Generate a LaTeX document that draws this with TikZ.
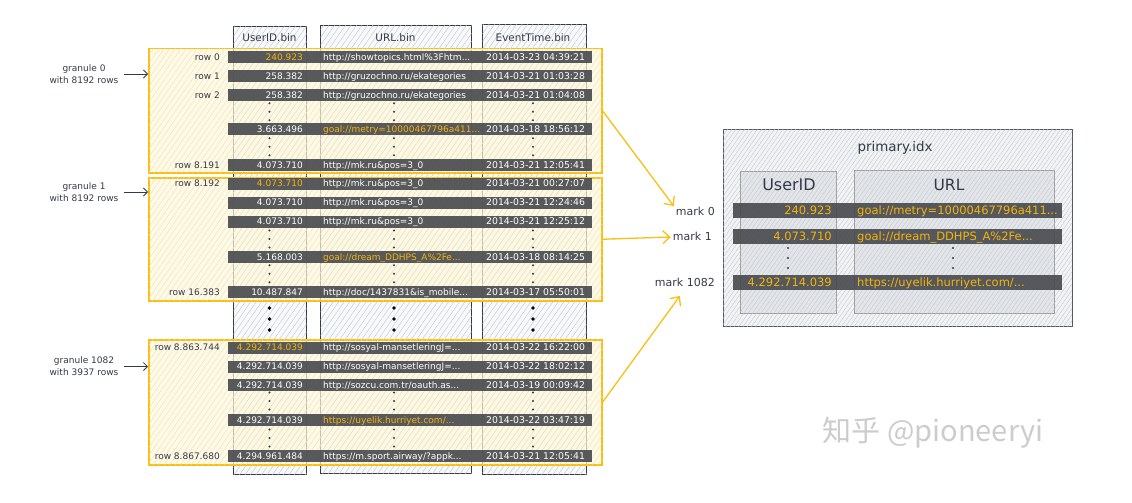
\documentclass[tikz,border=0pt]{standalone}
\usepackage{fontspec}
\setmainfont{DejaVu Sans}
\newfontfamily\cjkfont{Noto Sans CJK SC}
\usetikzlibrary{positioning,arrows.meta,patterns.meta}

\definecolor{goldline}{RGB}{250,190,20}
\definecolor{goldtext}{RGB}{245,180,12}
\definecolor{goldfill}{RGB}{255,248,222}
\definecolor{goldhatch}{RGB}{238,224,176}
\definecolor{inkline}{RGB}{52,58,72}
\definecolor{barfill}{RGB}{74,76,80}
\definecolor{colfill}{RGB}{248,249,250}
\definecolor{idxfill}{RGB}{241,243,245}
\definecolor{idxcolfill}{RGB}{226,229,233}
\definecolor{hatch}{RGB}{192,197,204}

\begin{document}
\begin{tikzpicture}
    [x=1pt, y=-1pt, >={Straight Barb[length=7pt,width=13pt]},
     every node/.style={inner sep=0pt},
     col/.style={draw=inkline, line width=1.1pt, fill=colfill, anchor=north west,
       postaction={pattern={Lines[angle=55,distance=4.5pt,line width=0.4pt]}, pattern color=hatch}},
     granule/.style={draw=goldline, line width=1.5pt, fill=goldfill, fill opacity=0.7,
       anchor=north west, minimum width=453pt,
       postaction={pattern={Lines[angle=55,distance=4.5pt,line width=0.4pt]}, pattern color=goldhatch}},
     bar/.style={fill=barfill, fill opacity=0.92, anchor=west, minimum width=364pt, minimum height=12pt},
     cell/.style={font=\fontsize{9}{11}\selectfont, text=white, text height=6.5pt, text depth=0pt},
     uid/.style={cell, anchor=east},
     url/.style={cell, anchor=west},
     tim/.style={cell, anchor=west, font=\fontsize{9.3}{11}\selectfont},
     hot/.style={text=goldtext},
     rowlbl/.style={font=\fontsize{9}{11}\selectfont, text=inkline, anchor=east, text height=6.5pt, text depth=0pt},
     head/.style={font=\fontsize{10.4}{12}\selectfont, text=inkline},
     glbl/.style={font=\fontsize{9}{12}\selectfont, align=center, text=inkline},
     marklbl/.style={font=\fontsize{11}{13}\selectfont, text=inkline, anchor=east, inner sep=2pt, text height=7.5pt, text depth=0pt},
     goldarrow/.style={->, draw=goldline, line width=1.3pt},
     smallarrow/.style={-{Straight Barb[length=4pt,width=8pt]}, draw=inkline, line width=0.8pt},
     idxbox/.style={draw=inkline!85, line width=1.1pt, fill=idxfill, anchor=north west,
       postaction={pattern={Lines[angle=55,distance=3.5pt,line width=0.35pt]}, pattern color=hatch}},
     idxcol/.style={draw=gray!75, line width=1pt, fill=idxcolfill, anchor=north west,
       postaction={pattern={Lines[angle=55,distance=3.5pt,line width=0.35pt]}, pattern color=gray!45}},
     ibar/.style={fill=barfill, fill opacity=0.92, anchor=west, minimum width=329pt, minimum height=15pt},
     ival/.style={font=\fontsize{11.5}{13}\selectfont, text=goldtext, text height=8.3pt, text depth=0pt},
     tabdots/.pic={\fill[inkline] (269.5,-8.5) circle (1.1) (269.5,0) circle (1.1) (269.5,8.5) circle (1.1)
       (394,-8.5) circle (1.1) (394,0) circle (1.1) (394,8.5) circle (1.1)
       (533,-8.5) circle (1.1) (533,0) circle (1.1) (533,8.5) circle (1.1);},
     bigdots/.pic={\fill[black] (269.5,-11) circle (1.8) (269.5,0) circle (1.8) (269.5,11) circle (1.8)
       (394,-11) circle (1.8) (394,0) circle (1.8) (394,11) circle (1.8)
       (533,-11) circle (1.8) (533,0) circle (1.8) (533,11) circle (1.8);},
     idxdots/.pic={\fill[inkline] (788,-10) circle (1.2) (788,0) circle (1.2) (788,10) circle (1.2)
       (953,-10) circle (1.2) (953,0) circle (1.2) (953,10) circle (1.2);}]
  \useasboundingbox (0,0) rectangle (1132,503);

  % column files
  \node[col, minimum width=73pt, minimum height=448pt] (colU) at (233,26) {};
  \node[col, minimum width=151pt, minimum height=448pt] (colL) at (320,25) {};
  \node[col, minimum width=104pt, minimum height=450pt] (colT) at (482,24) {};
  \node[head] (hU) at (269.5,38) {UserID.bin};
  \node[head] (hL) at (395.5,38) {URL.bin};
  \node[head] (hT) at (533,38) {EventTime.bin};

  % granules
  \node[granule, minimum height=124pt] (g0) at (148,48) {};
  \node[granule, minimum height=123pt] (g1) at (148,177) {};
  \node[granule, minimum height=125pt] (g1082) at (148,339) {};

  \node[glbl] (gl0) at (84,74) {granule 0\\with 8192 rows};
  \node[glbl] (gl1) at (84,192) {granule 1\\with 8192 rows};
  \node[glbl] (gl1082) at (84,366.5) {granule 1082\\with 3937 rows};
  \draw[smallarrow] ([xshift=5pt]gl0.east) -- (gl0.east -| g0.west);
  \draw[smallarrow] ([xshift=5pt]gl1.east) -- (gl1.east -| g1.west);
  \draw[smallarrow] ([xshift=5pt]gl1082.east) -- (gl1082.east -| g1082.west);

  % granule 0
  \node[bar] (b0a) at (228,57) {};
  \node[rowlbl] (r0a) at (220,57) {row 0};
  \node[uid,hot] (u0a) at (303,57) {240.923};
  \node[url] (l0a) at (323,57) {http://showtopics.html\%3Fhtm...};
  \node[tim] (t0a) at (486,57) {2014-03-23 04:39:21};
  \node[bar] (b0b) at (228,76) {};
  \node[rowlbl] (r0b) at (220,76) {row 1};
  \node[uid] (u0b) at (303,76) {258.382};
  \node[url] (l0b) at (323,76) {http://gruzochno.ru/ekategories};
  \node[tim] (t0b) at (486,76) {2014-03-21 01:03:28};
  \node[bar] (b0c) at (228,95) {};
  \node[rowlbl] (r0c) at (220,95) {row 2};
  \node[uid] (u0c) at (303,95) {258.382};
  \node[url] (l0c) at (323,95) {http://gruzochno.ru/ekategories};
  \node[tim] (t0c) at (486,95) {2014-03-21 01:04:08};
  \pic at (0,111.7) {tabdots};
  \node[bar] (b0d) at (228,129) {};
  \node[uid] (u0d) at (303,129) {3.663.496};
  \node[url,hot] (l0d) at (323,129) {goal://metry=10000467796a411...};
  \node[tim] (t0d) at (486,129) {2014-03-18 18:56:12};
  \pic at (0,146.7) {tabdots};
  \node[bar] (b0e) at (228,165) {};
  \node[rowlbl] (r0e) at (220,165) {row 8.191};
  \node[uid] (u0e) at (303,165) {4.073.710};
  \node[url] (l0e) at (323,165) {http://mk.ru\&pos=3\_0};
  \node[tim] (t0e) at (486,165) {2014-03-21 12:05:41};

  % granule 1
  \node[bar] (b1a) at (228,183.5) {};
  \node[rowlbl] (r1a) at (220,183.5) {row 8.192};
  \node[uid,hot] (u1a) at (303,183.5) {4.073.710};
  \node[url] (l1a) at (323,183.5) {http://mk.ru\&pos=3\_0};
  \node[tim] (t1a) at (486,183.5) {2014-03-21 00:27:07};
  \node[bar] (b1b) at (228,202.5) {};
  \node[uid] (u1b) at (303,202.5) {4.073.710};
  \node[url] (l1b) at (323,202.5) {http://mk.ru\&pos=3\_0};
  \node[tim] (t1b) at (486,202.5) {2014-03-21 12:24:46};
  \node[bar] (b1c) at (228,221.5) {};
  \node[uid] (u1c) at (303,221.5) {4.073.710};
  \node[url] (l1c) at (323,221.5) {http://mk.ru\&pos=3\_0};
  \node[tim] (t1c) at (486,221.5) {2014-03-21 12:25:12};
  \pic at (0,239) {tabdots};
  \node[bar] (b1d) at (228,257) {};
  \node[uid] (u1d) at (303,257) {5.168.003};
  \node[url,hot] (l1d) at (323,257) {goal://dream\_DDHPS\_A\%2Fe...};
  \node[tim] (t1d) at (486,257) {2014-03-18 08:14:25};
  \pic at (0,273.7) {tabdots};
  \node[bar] (b1e) at (228,292) {};
  \node[rowlbl] (r1e) at (220,292) {row 16.383};
  \node[uid] (u1e) at (303,292) {10.487.847};
  \node[url] (l1e) at (323,292) {http://doc/1437831\&is\_mobile...};
  \node[tim] (t1e) at (486,292) {2014-03-17 05:50:01};

  \pic at (0,319) {bigdots};

  % granule 1082
  \node[bar] (b2a) at (228,347.5) {};
  \node[rowlbl] (r2a) at (220,347.5) {row 8.863.744};
  \node[uid,hot] (u2a) at (303,347.5) {4.292.714.039};
  \node[url] (l2a) at (323,347.5) {http://sosyal-mansetleringJ=...};
  \node[tim] (t2a) at (486,347.5) {2014-03-22 16:22:00};
  \node[bar] (b2b) at (228,366.5) {};
  \node[uid] (u2b) at (303,366.5) {4.292.714.039};
  \node[url] (l2b) at (323,366.5) {http://sosyal-mansetleringJ=...};
  \node[tim] (t2b) at (486,366.5) {2014-03-22 18:02:12};
  \node[bar] (b2c) at (228,385) {};
  \node[uid] (u2c) at (303,385) {4.292.714.039};
  \node[url] (l2c) at (323,385) {http://sozcu.com.tr/oauth.as...};
  \node[tim] (t2c) at (486,385) {2014-03-19 00:09:42};
  \pic at (0,401) {tabdots};
  \node[bar] (b2d) at (228,420) {};
  \node[uid] (u2d) at (303,420) {4.292.714.039};
  \node[url,hot] (l2d) at (323,420) {https://uyelik.hurriyet.com/...};
  \node[tim] (t2d) at (486,420) {2014-03-22 03:47:19};
  \pic at (0,438) {tabdots};
  \node[bar] (b2e) at (228,456) {};
  \node[rowlbl] (r2e) at (220,456) {row 8.867.680};
  \node[uid] (u2e) at (303,456) {4.294.961.484};
  \node[url] (l2e) at (323,456) {https://m.sport.airway/?appk...};
  \node[tim] (t2e) at (486,456) {2014-03-21 12:05:41};

  % primary index
  \node[idxbox, minimum width=349pt, minimum height=197pt] (idx) at (722.5,129) {};
  \node[font=\fontsize{13.4}{15}\selectfont, text=inkline] (idxT) at (895,148) {primary.idx};
  \node[idxcol, minimum width=96pt, minimum height=142pt] (iU) at (740,171) {};
  \node[idxcol, minimum width=200pt, minimum height=143pt] (iL) at (854,170) {};
  \node[font=\fontsize{16}{18}\selectfont, text=inkline] (iUh) at (789,185) {UserID};
  \node[font=\fontsize{15.5}{18}\selectfont, text=inkline] (iLh) at (949,185) {URL};
  \node[ibar] (ib0) at (733,210) {};
  \node[ival, anchor=east] (iu0) at (832,210) {240.923};
  \node[ival, anchor=west] (il0) at (857,210) {goal://metry=10000467796a411...};
  \node[ibar] (ib1) at (733,236) {};
  \node[ival, anchor=east] (iu1) at (832,236) {4.073.710};
  \node[ival, anchor=west] (il1) at (857,236) {goal://dream\_DDHPS\_A\%2Fe...};
  \pic at (0,258) {idxdots};
  \node[ibar] (ib2) at (733,282) {};
  \node[ival, anchor=east] (iu2) at (832,282) {4.292.714.039};
  \node[ival, anchor=west] (il2) at (857,282) {https://uyelik.hurriyet.com/...};

  % marks
  \node[marklbl] (m0) at (717,212) {mark 0};
  \node[marklbl] (m1) at (714,237) {mark 1};
  \node[marklbl] (m1082) at (717,283) {mark 1082};
  \draw[goldarrow] (g0.east) -- (m0.north west);
  \draw[goldarrow] (g1.east) -- (m1.west);
  \draw[goldarrow] (g1082.east) -- ([xshift=-5pt,yshift=-7pt]m1082.south);

  \node[font=\cjkfont\fontsize{29}{32}\selectfont, text=gray!40] (wm) at (933,433) {知乎 @pioneeryi};
\end{tikzpicture}
\end{document}
